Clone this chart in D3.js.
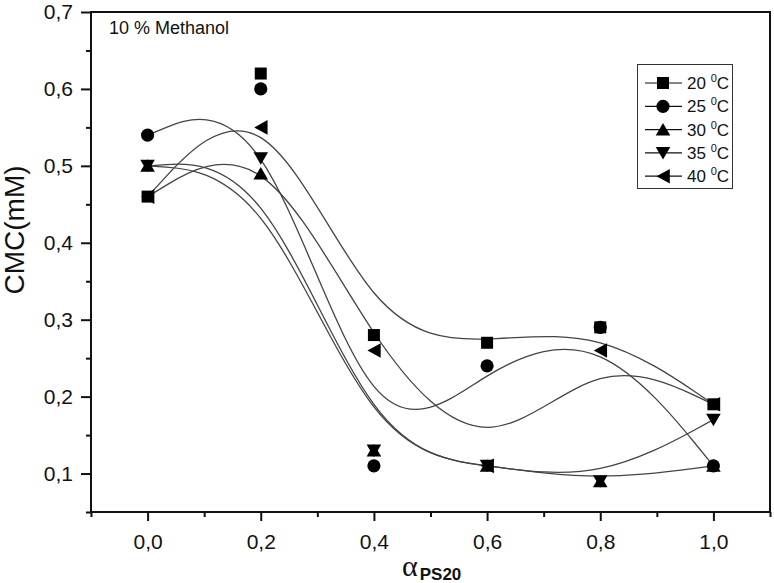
<!DOCTYPE html>
<html><head><meta charset="utf-8">
<script src="https://cdn.jsdelivr.net/npm/d3@7"></script>
<style>body{margin:0;background:#fff} svg{display:block}</style>
</head><body>
<svg id="c" width="774" height="583"></svg>
<script>
// ---- data ----
const alpha = [0.0, 0.2, 0.4, 0.6, 0.8, 1.0];
const cmc20 = [0.46, 0.62, 0.28, 0.27, 0.29, 0.19];
const cmc25 = [0.54, 0.60, 0.11, 0.24, 0.29, 0.11];
const cmc30 = [0.50, 0.49, 0.13, 0.11, 0.09, 0.11];
const cmc35 = [0.50, 0.51, 0.13, 0.11, 0.09, 0.17];
const cmc40 = [0.46, 0.55, 0.26, 0.11, 0.26, 0.19];
const tempLabels = ["20", "25", "30", "35", "40"];
const xMajorTicks = [0.0, 0.2, 0.4, 0.6, 0.8, 1.0];
const xMinorTicks = [-0.1, 0.1, 0.3, 0.5, 0.7, 0.9, 1.1];
const yMajorTicks = [0.1, 0.2, 0.3, 0.4, 0.5, 0.6, 0.7];
const yMinorTicks = [0.05, 0.15, 0.25, 0.35, 0.45, 0.55, 0.65];
const annotation = "10 % Methanol";
const yTitle = "CMC(mM)";

const seriesValues = [cmc20, cmc25, cmc30, cmc35, cmc40];
const shapes = ["square", "circle", "up", "down", "left"];

const svg = d3.select("#c");
const L = 91, R = 770, T = 12, B = 512;
const x = d3.scaleLinear().domain([-0.1, 1.1]).range([L, R]);
const y = d3.scaleLinear().domain([0.05, 0.7]).range([B, T]);
const fmt = d => d3.format(".1f")(d).replace(".", ",");
const font = "'Liberation Sans', Arial, sans-serif";

function marker(shape) {
  switch (shape) {
    case "square": return "M-6,-6H6V6H-6Z";
    case "circle": return d3.symbol(d3.symbolCircle, Math.PI * 6.6 * 6.6)();
    case "up": return "M0,-6.5L7.3,6L-7.3,6Z";
    case "down": return "M0,6.5L7.3,-6L-7.3,-6Z";
    case "left": return "M-6.5,0L6.8,-7.3L6.8,7.3Z";
  }
}

// axes
const gx = svg.append("g").attr("transform", `translate(0,${B})`);
gx.call(d3.axisBottom(x).tickValues(xMajorTicks).tickFormat(fmt).tickSize(9).tickPadding(13));
gx.append("g").call(d3.axisBottom(x).tickValues(xMinorTicks).tickFormat("").tickSize(5));
const gy = svg.append("g").attr("transform", `translate(${L},0)`);
gy.call(d3.axisLeft(y).tickValues(yMajorTicks).tickFormat(fmt).tickSize(10).tickPadding(8));
gy.append("g").call(d3.axisLeft(y).tickValues(yMinorTicks).tickFormat("").tickSize(5));
svg.selectAll(".domain").remove();
svg.selectAll(".tick line").attr("stroke", "#111").attr("stroke-width", 2);
svg.selectAll(".tick text").attr("font-family", font).attr("font-size", 21).attr("fill", "#111");

// frame
svg.append("rect").attr("x", L).attr("y", T).attr("width", R - L).attr("height", B - T)
  .attr("fill", "none").attr("stroke", "#111").attr("stroke-width", 2);

// curves
const line = d3.line().x(d => x(d[0])).y(d => y(d[1])).curve(d3.curveBasis);
seriesValues.forEach(vals => {
  svg.append("path").attr("d", line(alpha.map((a, i) => [a, vals[i]])))
    .attr("fill", "none").attr("stroke", "#444").attr("stroke-width", 1.3);
});
// markers
seriesValues.forEach((vals, si) => {
  svg.append("g").selectAll("path").data(alpha.map((a, i) => [a, vals[i]])).join("path")
    .attr("d", marker(shapes[si]))
    .attr("transform", d => `translate(${x(d[0])},${y(d[1])})`)
    .attr("fill", "#000");
});

// annotation
svg.append("text").attr("x", 109).attr("y", 34).attr("font-family", font).attr("font-size", 18)
  .attr("fill", "#111").text(annotation);

// legend
const lg = svg.append("g");
lg.append("rect").attr("x", 637.5).attr("y", 64.5).attr("width", 95).attr("height", 124)
  .attr("fill", "#fff").attr("stroke", "#333").attr("stroke-width", 1);
tempLabels.forEach((t, i) => {
  const cy = 83 + i * 23.3;
  lg.append("line").attr("x1", 645).attr("x2", 682).attr("y1", cy).attr("y2", cy)
    .attr("stroke", "#111").attr("stroke-width", 1.2);
  lg.append("path").attr("d", marker(shapes[i])).attr("transform", `translate(663,${cy})`).attr("fill", "#000");
  const tx = lg.append("text").attr("x", 687).attr("y", cy + 6).attr("font-family", font)
    .attr("font-size", 17).attr("fill", "#111");
  tx.append("tspan").text(t + " ");
  tx.append("tspan").attr("font-size", 11).attr("dy", -7).text("0");
  tx.append("tspan").attr("dy", 7).text("C");
});

// axis titles
svg.append("text").attr("transform", "translate(24,230) rotate(-90)").attr("text-anchor", "middle")
  .attr("font-family", font).attr("font-size", 28).attr("fill", "#111").text(yTitle);
const xt = svg.append("text").attr("x", 402).attr("y", 576).attr("fill", "#111");
xt.append("tspan").attr("font-family", "'Liberation Serif', 'Times New Roman', serif").attr("font-size", 30).text("α");
xt.append("tspan").attr("font-family", font).attr("font-weight", "bold").attr("font-size", 17).attr("dy", 4).attr("dx", 2).text("PS20");
</script>
</body></html>
